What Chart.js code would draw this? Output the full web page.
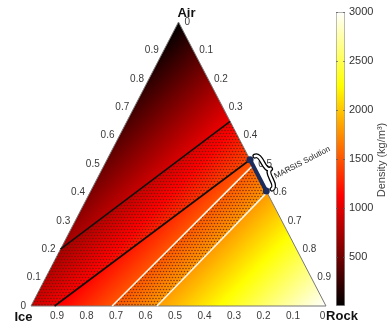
<!DOCTYPE html>
<html>
<head>
<meta charset="utf-8">
<script src="https://cdn.jsdelivr.net/npm/chart.js@4.4.0/dist/chart.umd.min.js"></script>
<style>
  html, body { margin: 0; padding: 0; background: #fff; }
  #wrap { position: relative; width: 389px; height: 326px; overflow: hidden; }
  #ternary { position: absolute; left: 0; top: 0; }
  #colorbar { position: absolute; left: 326px; top: 0; }
</style>
</head>
<body>
<div id="wrap">
  <canvas id="ternary" width="389" height="326"></canvas>
  <canvas id="colorbar" width="63" height="326"></canvas>
</div>
<script>
// Compositions are written as [ice, rock, air] fractions
var cornerNames = ['Ice', 'Rock', 'Air'];
var cornerDensity = [920, 3000, 0];          // kg/m3 at the ice, rock and air corners
var densityMax = 3000;
var tickValues = [0, 0.1, 0.2, 0.3, 0.4, 0.5, 0.6, 0.7, 0.8, 0.9];
var tickLabels = ['0', '0.1', '0.2', '0.3', '0.4', '0.5', '0.6', '0.7', '0.8', '0.9'];
var colorbarTicks = [500, 1000, 1500, 2000, 2500, 3000];

// Boundary lines
var blackLineUpper = [[0.8, 0, 0.2], [0, 0.35, 0.65]];
var blackLineLower = [[0.92, 0.08, 0], [0, 0.485, 0.515]];
var whiteLineUpper = [[0.725, 0.275, 0], [0, 0.505, 0.495]];
var whiteLineLower = [[0.573, 0.427, 0], [0, 0.60, 0.40]];
var marsisSolution = [[0, 0.485, 0.515], [0, 0.595, 0.405]];
var marsisLabel = 'MARSIS Solution';

var fontFamily = '"Liberation Sans", Arial, sans-serif';

// Ternary -> plot coordinates
function toXY(p) {
  return { x: p[1] + p[2] / 2, y: p[2] };
}

var corners = [[1, 0, 0], [0, 1, 0], [0, 0, 1]];
var triangle = [corners[0], corners[1], corners[2], corners[0]];

// Dotted bands between the pairs of lines
var dottedUpper = [blackLineUpper[0], blackLineUpper[1], blackLineLower[1], blackLineLower[0], corners[0], blackLineUpper[0]];
var dottedLower = [whiteLineUpper[0], whiteLineUpper[1], whiteLineLower[1], whiteLineLower[0], whiteLineUpper[0]];

function addHotStops(g) {
  g.addColorStop(0, '#000000');
  g.addColorStop(0.375, '#ff0000');
  g.addColorStop(0.75, '#ffff00');
  g.addColorStop(1, '#ffffff');
  return g;
}

function pixelOf(chart, p) {
  var xy = toXY(p);
  return { x: chart.scales.x.getPixelForValue(xy.x), y: chart.scales.y.getPixelForValue(xy.y) };
}

// Density is linear over the triangle, so a linear gradient does it
function densityGradient(context) {
  var chart = context.chart;
  if (!chart.chartArea) return null;
  var p0 = pixelOf(chart, corners[0]);
  var p1 = pixelOf(chart, corners[1]);
  var p2 = pixelOf(chart, corners[2]);
  var dx1 = p1.x - p0.x, dy1 = p1.y - p0.y, dD1 = cornerDensity[1] - cornerDensity[0];
  var dx2 = p2.x - p0.x, dy2 = p2.y - p0.y, dD2 = cornerDensity[2] - cornerDensity[0];
  var det = dx1 * dy2 - dx2 * dy1;
  var a = (dD1 * dy2 - dD2 * dy1) / det;
  var b = (dx1 * dD2 - dx2 * dD1) / det;
  var n2 = a * a + b * b;
  var s = (0 - cornerDensity[0]) / n2;
  var e = (densityMax - cornerDensity[0]) / n2;
  var g = chart.ctx.createLinearGradient(p0.x + a * s, p0.y + b * s, p0.x + a * e, p0.y + b * e);
  return addHotStops(g);
}

// small hex grid of dark dots
var dotTile = document.createElement('canvas');
dotTile.width = 3;
dotTile.height = 6;
(function() {
  var c = dotTile.getContext('2d');
  c.fillStyle = 'rgba(80, 25, 0, 0.7)';
  [[1.5, 1.5], [0, 4.5], [3, 4.5]].forEach(function(d) {
    c.beginPath();
    c.arc(d[0], d[1], 0.8, 0, Math.PI * 2);
    c.fill();
  });
})();

function dotPattern(context) {
  return context.chart.ctx.createPattern(dotTile, 'repeat');
}

function polygonSet(points, fillStyle, order) {
  return {
    data: points.map(toXY),
    backgroundColor: fillStyle,
    borderColor: 'rgba(0,0,0,0)',
    borderWidth: 0,
    fill: 'shape',
    pointRadius: 0,
    order: order
  };
}

function lineSet(points, color, width, order) {
  return {
    data: points.map(toXY),
    borderColor: color,
    borderWidth: width,
    fill: false,
    pointRadius: 0,
    order: order
  };
}

var triangleSet = polygonSet(triangle, densityGradient, 10);
triangleSet.borderColor = '#777777';
triangleSet.borderWidth = 1;

var marsisSet = lineSet(marsisSolution, '#1c2c5c', 4, 0);
marsisSet.pointRadius = 3.5;
marsisSet.pointBackgroundColor = '#1c2c5c';
marsisSet.pointBorderWidth = 0;

// Axis ticks, corner names and the MARSIS brace
var ternaryText = {
  id: 'ternaryText',
  afterDraw: function(chart) {
    var ctx = chart.ctx;
    ctx.save();
    ctx.fillStyle = '#3a3a3a';
    ctx.font = '10px ' + fontFamily;
    ctx.textBaseline = 'middle';

    tickValues.forEach(function(t, i) {
      // left side: air
      var pl = pixelOf(chart, [1 - t, 0, t]);
      ctx.textAlign = 'right';
      ctx.fillText(tickLabels[i], pl.x - 5, pl.y);
      // right side: rock
      var pr = pixelOf(chart, [0, t, 1 - t]);
      ctx.textAlign = 'left';
      ctx.fillText(tickLabels[i], pr.x + 6, pr.y);
      // bottom: ice
      var pb = pixelOf(chart, [t, 1 - t, 0]);
      ctx.textAlign = 'center';
      ctx.fillText(tickLabels[i], pb.x - 3.5, pb.y + 10);
    });

    // MARSIS brace
    var m0 = pixelOf(chart, marsisSolution[0]);
    var m1 = pixelOf(chart, marsisSolution[1]);
    var ang = Math.atan2(m1.y - m0.y, m1.x - m0.x);
    var half = Math.hypot(m1.x - m0.x, m1.y - m0.y) / 2 + 1;
    var nx = Math.sin(ang), ny = -Math.cos(ang);   // outward normal
    var cx = (m0.x + m1.x) / 2 + nx * 6;
    var cy = (m0.y + m1.y) / 2 + ny * 6;
    var d = -8;
    ctx.save();
    ctx.translate(cx, cy);
    ctx.rotate(ang);
    ctx.beginPath();
    ctx.moveTo(-half, 0);
    ctx.quadraticCurveTo(-half, d / 2, -half / 2, d / 2);
    ctx.quadraticCurveTo(0, d / 2, 0, d);
    ctx.quadraticCurveTo(0, d / 2, half / 2, d / 2);
    ctx.quadraticCurveTo(half, d / 2, half, 0);
    ctx.lineCap = 'round';
    ctx.lineJoin = 'round';
    ctx.strokeStyle = '#000';
    ctx.lineWidth = 5;
    ctx.stroke();
    ctx.strokeStyle = '#fff';
    ctx.lineWidth = 2.5;
    ctx.stroke();
    ctx.restore();

    // MARSIS label along the outward normal
    var tx = (m0.x + m1.x) / 2 + nx * 14 + Math.cos(ang) * 9;
    var ty = (m0.y + m1.y) / 2 + ny * 14 + Math.sin(ang) * 9;
    ctx.save();
    ctx.translate(tx, ty);
    ctx.rotate(Math.atan2(ny, nx));
    ctx.fillStyle = '#222';
    ctx.font = '8px ' + fontFamily;
    ctx.textAlign = 'left';
    ctx.fillText(marsisLabel, 0, 0);
    ctx.restore();

    // corner names
    ctx.fillStyle = '#111';
    ctx.font = 'bold 13px ' + fontFamily;
    ctx.textAlign = 'center';
    var offsets = [[-7.5, 11], [16, 10], [8, -9]];
    corners.forEach(function(c, i) {
      var p = pixelOf(chart, c);
      ctx.fillText(cornerNames[i], p.x + offsets[i][0], p.y + offsets[i][1]);
    });
    ctx.restore();
  }
};

var ternaryChart = new Chart(document.getElementById('ternary'), {
  type: 'line',
  data: {
    datasets: [
      triangleSet,
      polygonSet(dottedUpper, dotPattern, 8),
      polygonSet(dottedLower, dotPattern, 8),
      lineSet(blackLineUpper, '#111111', 1.6, 5),
      lineSet(blackLineLower, '#111111', 1.6, 5),
      lineSet(whiteLineUpper, '#fff6ea', 1.6, 5),
      lineSet(whiteLineLower, '#fff6ea', 1.6, 5),
      marsisSet
    ]
  },
  options: {
    responsive: false,
    animation: false,
    events: [],
    clip: false,
    elements: { line: { tension: 0 } },
    layout: { padding: { left: 31, right: 63, top: 22, bottom: 20 } },
    plugins: { legend: { display: false }, tooltip: { enabled: false } },
    scales: {
      x: { type: 'linear', min: 0, max: 1, display: false },
      y: { type: 'linear', min: 0, max: 1, display: false }
    }
  },
  plugins: [ternaryText]
});

function barGradient(context) {
  var chart = context.chart;
  if (!chart.chartArea) return null;
  var y = chart.scales.y;
  var g = chart.ctx.createLinearGradient(0, y.getPixelForValue(0), 0, y.getPixelForValue(densityMax));
  return addHotStops(g);
}

// Title reads bottom-to-top, and short tick marks on both bar edges
var colorbarExtras = {
  id: 'colorbarExtras',
  afterDraw: function(chart) {
    var ctx = chart.ctx;
    var area = chart.chartArea;
    var y = chart.scales.y;
    ctx.save();
    ctx.strokeStyle = 'rgba(90,90,90,0.7)';
    ctx.lineWidth = 1;
    colorbarTicks.forEach(function(v) {
      var py = Math.round(y.getPixelForValue(v)) + 0.5;
      ctx.beginPath();
      ctx.moveTo(area.left, py);
      ctx.lineTo(area.left + 2, py);
      ctx.moveTo(area.right - 2, py);
      ctx.lineTo(area.right, py);
      ctx.stroke();
    });
    ctx.translate(56, 160);
    ctx.rotate(-Math.PI / 2);
    ctx.fillStyle = '#444';
    ctx.font = '11px ' + fontFamily;
    ctx.textAlign = 'center';
    ctx.textBaseline = 'middle';
    ctx.fillText('Density (kg/m\u00b3)', 0, 0);
    ctx.restore();
  }
};

var colorbarChart = new Chart(document.getElementById('colorbar'), {
  type: 'bar',
  data: {
    labels: [''],
    datasets: [{
      data: [[0, densityMax]],
      backgroundColor: barGradient,
      borderColor: '#9a9a9a',
      borderWidth: 1,
      borderSkipped: false,
      barPercentage: 1,
      categoryPercentage: 1
    }]
  },
  options: {
    responsive: false,
    animation: false,
    events: [],
    layout: { padding: { left: 10, right: 0, top: 12, bottom: 20 } },
    plugins: { legend: { display: false }, tooltip: { enabled: false } },
    scales: {
      x: { display: false },
      y: {
        position: 'right',
        min: 0,
        max: densityMax,
        afterBuildTicks: function(scale) {
          scale.ticks = colorbarTicks.map(function(v) { return { value: v }; });
        },
        afterFit: function(scale) { scale.width = 44; },
        grid: { display: false, drawTicks: false, tickLength: 0 },
        border: { display: false },
        ticks: {
          padding: 4,
          color: '#333',
          font: { family: fontFamily, size: 11 },
          callback: function(v) { return String(v); }
        }
      }
    }
  },
  plugins: [colorbarExtras]
});
</script>
</body>
</html>
